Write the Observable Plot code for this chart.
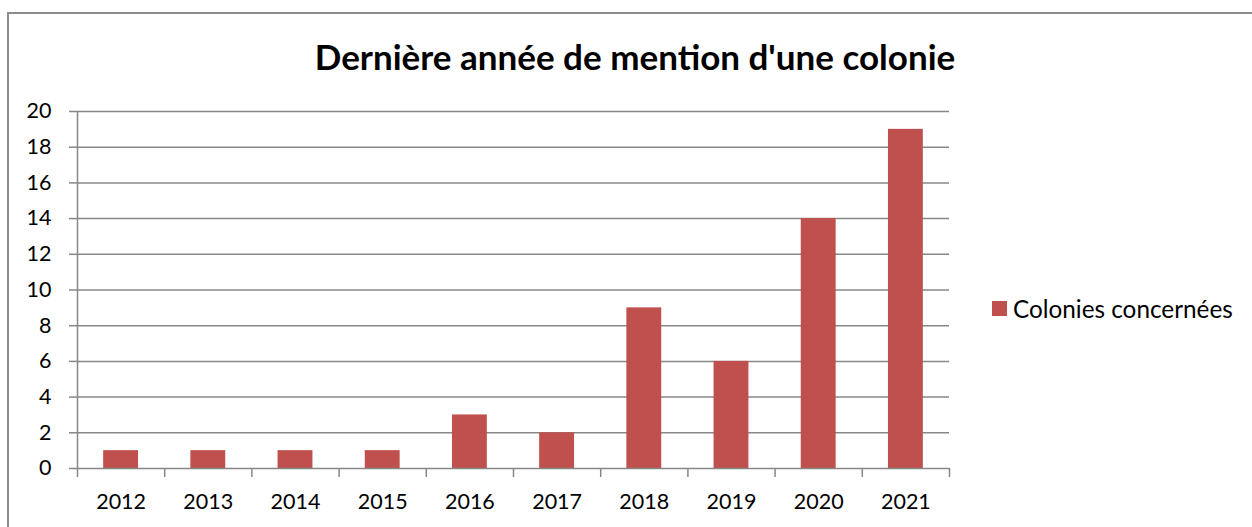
<!DOCTYPE html>
<html>
<head>
<meta charset="utf-8">
<script src="https://cdn.jsdelivr.net/npm/d3@7"></script>
<script src="https://cdn.jsdelivr.net/npm/@observablehq/plot@0.6"></script>
<style>
  html, body { margin: 0; padding: 0; background: #fff; overflow: hidden; }
  #wrap { position: relative; width: 1252px; height: 527px; font-family: Lato, "Open Sans", sans-serif; }
  #frame { position: absolute; left: 7px; top: 12px; width: 1300px; height: 600px; border-left: 2px solid #8c8c8c; border-top: 2px solid #8c8c8c; }
  #title { position: absolute; left: 635px; top: 35px; transform: translateX(-50%); white-space: nowrap; font-weight: 700; font-size: 35px; color: #000; }
  #legend { position: absolute; left: 992px; top: 294px; display: flex; align-items: center; font-size: 24.3px; color: #000; white-space: nowrap; }
  #legend .sw { width: 15px; height: 15px; margin-right: 6px; }
  #chart { position: absolute; left: 0; top: 0; }
</style>
</head>
<body>
<div id="wrap">
  <div id="frame"></div>
  <div id="chart"></div>
  <div id="title"></div>
  <div id="legend"></div>
</div>
<script>
const titleText = "Dernière année de mention d'une colonie";
const seriesName = "Colonies concernées";
const years = [2012, 2013, 2014, 2015, 2016, 2017, 2018, 2019, 2020, 2021];
const values = [1, 1, 1, 1, 3, 2, 9, 6, 14, 19];
const yTicks = [0, 2, 4, 6, 8, 10, 12, 14, 16, 18, 20];
const barColor = "#C0504D";
const gridColor = "#878787";

const data = years.map((y, i) => ({year: y, value: values[i]}));
const boundaries = [...years.map(y => y - 0.5), years[years.length - 1] + 0.5];
const xDomain = [boundaries[0], boundaries[boundaries.length - 1]];

document.getElementById("title").textContent = titleText;
document.getElementById("legend").innerHTML =
  `<div class="sw" style="background:${barColor}"></div><span>${seriesName}</span>`;

const chart = Plot.plot({
  width: 1252,
  height: 527,
  marginLeft: 77,
  marginRight: 303,
  marginTop: 111,
  marginBottom: 59,
  style: {fontFamily: "Lato, 'Open Sans', sans-serif", background: "transparent", color: "#000"},
  x: {type: "linear", domain: xDomain},
  y: {domain: [0, 20]},
  marks: [
    Plot.ruleY(yTicks.filter(d => d > 0), {stroke: gridColor, strokeWidth: 1.5}),
    Plot.rectY(data, {x1: d => d.year - 0.2, x2: d => d.year + 0.2, y: "value", fill: barColor}),
    Plot.ruleY([0], {stroke: gridColor, strokeWidth: 1.5}),
    Plot.ruleX([xDomain[0]], {stroke: gridColor, strokeWidth: 1.5}),
    Plot.axisY({ticks: yTicks, tickSize: 8, tickPadding: 18, fontSize: 21.5, stroke: gridColor, strokeWidth: 1.5, strokeOpacity: 1, label: null, tickFormat: d => String(d)}),
    Plot.axisX({ticks: boundaries, tickSize: 9, tickFormat: () => "", stroke: gridColor, strokeWidth: 1.5, strokeOpacity: 1, label: null}),
    Plot.axisX({ticks: years, tickSize: 0, tickPadding: 25, fontSize: 21.5, label: null, tickFormat: d => String(d)})
  ]
});
document.getElementById("chart").appendChild(chart);
</script>
</body>
</html>
